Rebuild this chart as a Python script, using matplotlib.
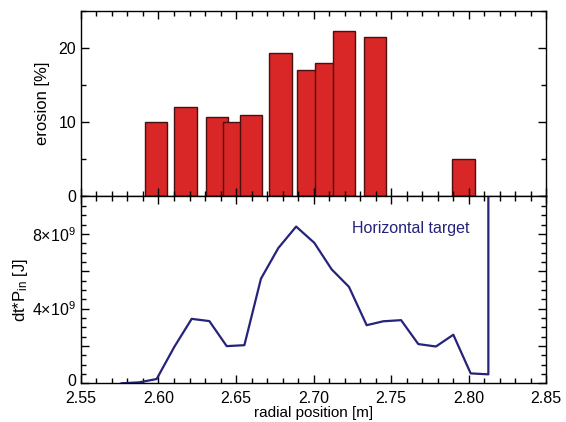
import numpy as np
import matplotlib
matplotlib.use('Agg')
import matplotlib.pyplot as plt
import matplotlib.transforms as mtransforms
from matplotlib.ticker import MultipleLocator, FixedLocator, FixedFormatter

plt.rcParams['font.family'] = ['Liberation Sans', 'DejaVu Sans']
plt.rcParams['mathtext.fontset'] = 'custom'
plt.rcParams['mathtext.rm'] = 'Liberation Sans'
plt.rcParams['mathtext.it'] = 'Liberation Sans'

# erosion bars (centre position [m], erosion [%])
bar_pos = [2.5985, 2.6176, 2.6377, 2.6487, 2.6597, 2.6788, 2.6964, 2.7085, 2.7196, 2.7397, 2.7969]
bar_val = [10.0, 12.0, 10.7, 10.0, 11.0, 19.4, 17.0, 18.0, 22.3, 21.5, 5.0]
bar_w = 0.0146

# deposited energy along the horizontal target
r_pos = [2.5762, 2.5875, 2.5988, 2.6102, 2.6214, 2.6328, 2.6440, 2.6554, 2.6661, 2.6773,
         2.6888, 2.7005, 2.7117, 2.7229, 2.7343, 2.7450, 2.7565, 2.7676, 2.7790, 2.7902,
         2.8014, 2.8128, 2.8128]
energy = [0.0, 0.05, 0.23, 1.95, 3.45, 3.33, 1.99, 2.04, 5.6, 7.24,
          8.39, 7.52, 6.10, 5.16, 3.11, 3.32, 3.38, 2.10, 1.97, 2.60,
          0.53, 0.48, 10.5]
energy = [e * 1e9 for e in energy]

fig = plt.figure(figsize=(5.66, 4.22), dpi=100)
ax1 = fig.add_axes([0.1431, 0.5344, 0.8216, 0.4395])
ax2 = fig.add_axes([0.1431, 0.0917, 0.8216, 0.4427])

ax1.bar(bar_pos, bar_val, width=bar_w, color='#d92626', edgecolor='#4a1010', linewidth=1.0)
ax1.set_xlim(2.55, 2.85)
ax1.set_ylim(0, 25)
ax1.set_ylabel('erosion [%]', fontsize=12, labelpad=6)
ax1.yaxis.set_major_locator(MultipleLocator(10))
ax1.yaxis.set_minor_locator(MultipleLocator(5))
ax1.set_xticklabels([])

ax2.plot(r_pos, energy, color='#25237a', linewidth=1.6)
ax2.set_xlim(2.55, 2.85)
ax2.set_ylim(0, 1e10)
ax2.set_xlabel('radial position [m]', fontsize=11, labelpad=0)
ax2.set_ylabel(r'dt*P$_{\mathregular{in}}$ [J]', fontsize=12, labelpad=2)
ax2.yaxis.set_major_locator(FixedLocator([0, 2e9, 4e9, 6e9, 8e9]))
ax2.yaxis.set_major_formatter(FixedFormatter(['0', '', r'$\mathregular{4{\times}10^9}$', '',
                                              r'$\mathregular{8{\times}10^9}$']))
ax2.yaxis.set_minor_locator(MultipleLocator(0.5e9))
ax2.text(2.725, 8.3e9, 'Horizontal target', color='#25237a', fontsize=11.5, ha='left', va='center')

for ax in (ax1, ax2):
    ax.xaxis.set_major_locator(MultipleLocator(0.05))
    ax.xaxis.set_minor_locator(MultipleLocator(0.01))
    ax.tick_params(which='both', direction='in', top=True, right=True, labelsize=11.5, width=1)
    ax.tick_params(which='major', length=6)
    ax.tick_params(which='minor', length=3.5)
    ax.tick_params(axis='x', pad=5.5)
    for s in ax.spines.values():
        s.set_linewidth(1.0)

ax2.xaxis.set_major_formatter(matplotlib.ticker.FormatStrFormatter('%.2f'))

# nudge the bottom "0" up a little so it clears the 2.55 label
zero_lbl = ax2.get_yticklabels()[0]
zero_lbl.set_transform(zero_lbl.get_transform() +
                       mtransforms.ScaledTranslation(0, 2.5 / 72, fig.dpi_scale_trans))

fig.savefig('out.png', dpi=100)
